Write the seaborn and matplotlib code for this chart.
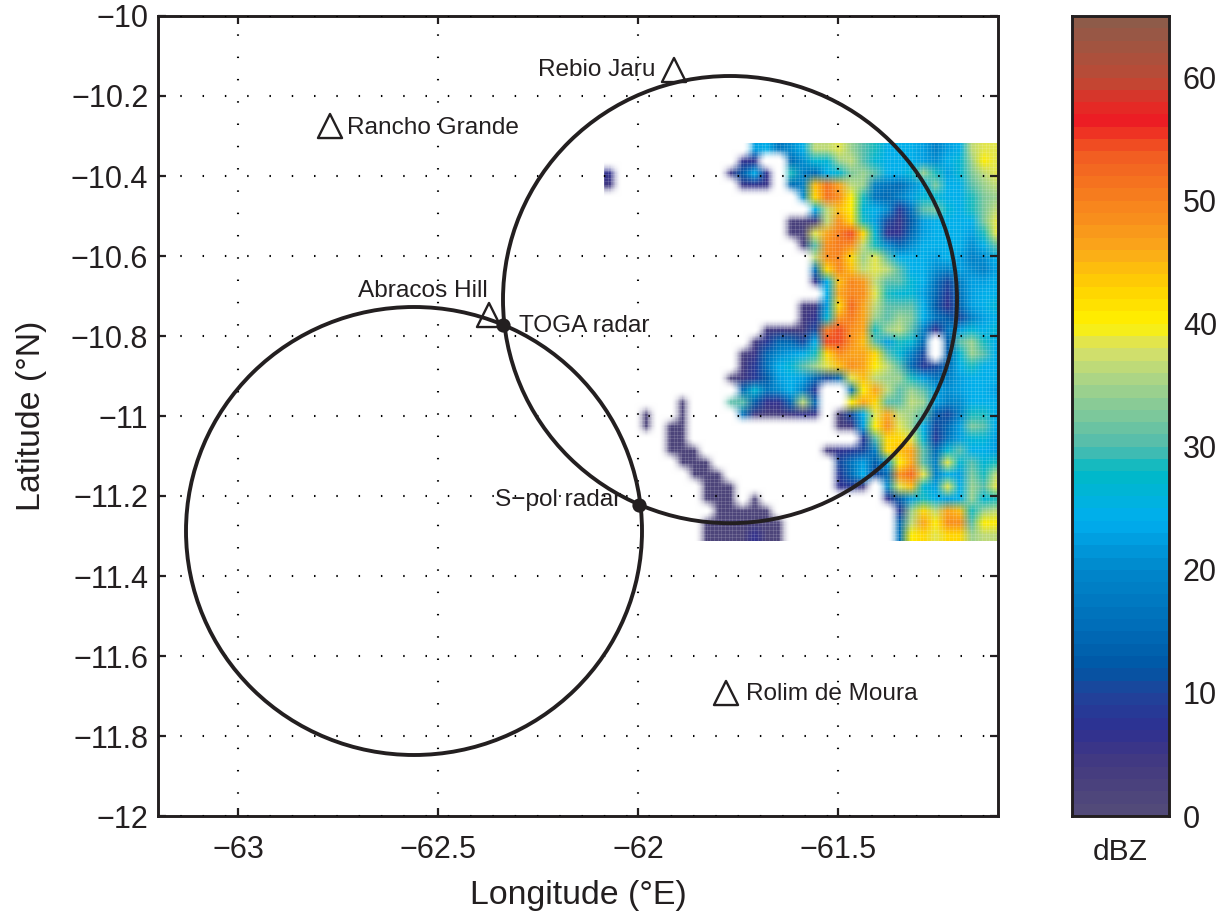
import numpy as np
import pandas as pd
import matplotlib
matplotlib.use("Agg")
import matplotlib.pyplot as plt
from matplotlib.colors import LinearSegmentedColormap, ListedColormap
from matplotlib.patches import Ellipse
import seaborn as sns

sns.set_theme(style="white")
plt.rcParams['font.family'] = ['Liberation Sans', 'DejaVu Sans']
INK = "#231f20"
_ = float('nan')

# colour bar anchors (dBZ, colour)
CB_VALUES = [0, 4, 7, 10, 12, 16, 20, 24, 28, 30, 35, 38, 40, 43, 46, 50, 54, 56.5, 58, 60, 65]
CB_COLORS = ["#534b78", "#433a80", "#2e3092", "#1f449b", "#0057a5", "#0071bb", "#0088cc", "#00aeef",
             "#00b9c6", "#4fbbae", "#a4d38a", "#d9e165", "#fff200", "#ffd200", "#fbaa19", "#f7801e",
             "#f15a22", "#ed1c24", "#e22d26", "#bd4a35", "#8c5c4a"]

# reflectivity rows: (first column, values) north to south, dBZ
R00 = (12, [22,24,16,20,24,36,36,38,34,30,28,24,24,24,22,18,22,24,36,38,38])
R01 = (11, [6,6,_,_,14,20,26,26,34,36,30,26,24,24,24,22,20,24,26,34,40,38])
R02 = (0, [6,_,_,_,_,_,_,_,_,_,5,12,24,6,_,28,18,14,24,26,32,34,30,24,24,26,34,28,22,26,32,36,38])
R03 = (0, [4,_,_,_,_,_,_,_,_,_,_,5,6,5,_,14,18,44,51,46,36,34,18,16,14,20,24,32,24,24,30,34,36])
R04 = (16, [20,42,51,48,40,28,16,14,18,22,26,26,24,24,28,32,34])
R05 = (17, [24,36,44,40,26,24,20,8,16,30,32,26,24,28,32,36])
R06 = (15, [2,2,3,36,48,42,28,22,10,5,12,22,24,24,24,24,32,38])
R07 = (15, [2,2,38,46,50,54,42,26,6,6,14,22,24,24,24,22,28,38])
R08 = (16, [3,30,48,50,48,36,28,20,14,20,24,24,24,24,20,24,30])
R09 = (17, [36,48,49,42,34,38,30,24,24,24,22,24,22,18,20,24])
R10 = (17, [16,42,49,44,36,38,36,30,24,24,20,18,22,20,18,22])
R11 = (17, [5,24,44,49,47,36,30,30,26,24,16,10,18,22,22,24])
R12 = (18, [24,46,49,48,38,28,26,26,22,14,8,16,22,24,24])
R13 = (16, [3,4,22,42,52,46,36,30,30,30,24,12,6,14,22,24,26])
R14 = (16, [3,6,26,47,50,46,34,30,34,32,24,16,12,10,18,22,24])
R15 = (13, [3,4,3,3,10,50,54,48,46,28,34,36,30,18,6,16,22,26,24,26])
R16 = (12, [3,8,14,14,10,24,54,54,48,44,30,22,28,26,14,_,12,30,34,28,24])
R17 = (11, [2,5,14,20,22,24,28,42,48,46,46,42,30,26,18,10,_,12,26,34,30,24])
R18 = (11, [3,8,16,24,26,30,34,38,44,48,46,40,36,30,14,8,10,14,24,28,24,24])
R19 = (10, [1,4,8,12,22,24,22,14,10,14,38,44,36,34,34,28,22,16,18,22,24,24,24])
R20 = (11, [14,26,16,20,24,18,8,_,_,16,40,46,36,30,34,30,22,20,22,24,24,22])
R21 = (6, [1,_,_,_,30,30,12,6,6,14,36,14,_,_,40,46,42,30,30,36,34,22,18,20,24,24,24])
R22 = (3, [1,_,_,1,_,_,_,_,16,4,2,3,4,6,5,_,2,10,24,38,46,36,34,30,12,10,18,28,28,24])
R23 = (3, [1,_,1,1,_,_,_,_,_,_,_,_,_,_,_,_,2,4,22,40,48,38,34,24,10,14,22,32,30,24])
R24 = (5, [1,1,_,_,_,_,_,_,_,_,_,_,_,_,_,_,8,30,42,42,38,26,8,16,22,26,26,22])
R25 = (5, [1,1,1,_,_,_,_,_,_,_,_,_,_,3,6,8,10,18,42,44,46,30,14,26,30,24,24,22])
R26 = (6, [1,1,1,_,_,_,_,_,_,_,_,_,_,10,16,22,12,22,40,46,30,18,38,26,30,26,28])
R27 = (7, [1,1,1,_,_,_,_,_,_,_,_,_,8,14,24,10,14,48,52,38,18,24,22,32,28,36])
R28 = (8, [1,1,1,_,_,_,_,_,_,_,_,6,8,4,_,20,38,44,26,22,38,24,34,30,38])
R29 = (8, [1,1,1,_,1,_,_,_,_,_,_,_,_,_,_,6,12,22,28,24,22,24,34,26,28])
R30 = (9, [1,1,1,1,1,_,_,_,_,_,_,_,_,_,_,8,34,42,36,46,44,28,34,36])
R31 = (8, [1,1,1,1,1,1,1,_,_,_,_,_,_,_,_,_,14,36,46,40,48,48,30,40,40])
R32 = (8, [1,1,1,1,6,1,1,_,_,_,_,_,_,_,_,_,16,40,42,38,42,42,34,36,36])
FIELD_ROWS = [R00,R01,R02,R03,R04,R05,R06,R07,R08,R09,R10,R11,R12,R13,R14,R15,R16,
              R17,R18,R19,R20,R21,R22,R23,R24,R25,R26,R27,R28,R29,R30,R31,R32]
FIELD_EXTENT = [-62.085, -61.09, -11.3125, -10.3175]

# radar range circles
CIRCLE_LON = [-61.77, -62.56]
CIRCLE_LAT = [-10.709, -11.2875]
CIRCLE_RX = [0.5675, 0.57]
CIRCLE_RY = [0.559, 0.56]

# sites
STATION_NAMES = ["Rancho Grande", "Rebio Jaru", "Abracos Hill", "Rolim de Moura"]
STATION_LON = [-62.77, -61.91, -62.3725, -61.78]
STATION_LAT = [-10.275, -10.135, -10.7475, -11.6925]
STATION_LABEL_LON = [-62.7275, -61.9575, -62.375, -61.73]
STATION_LABEL_LAT = [-10.28, -10.135, -10.6875, -11.695]
STATION_HA = ["left", "right", "right", "left"]
RADAR_NAMES = ["TOGA radar", "S\u2212pol radar"]
RADAR_LON = [-62.3375, -61.9975]
RADAR_LAT = [-10.7725, -11.2225]
RADAR_LABEL_LON = [-62.2975, -62.3575]
RADAR_LABEL_LAT = [-10.775, -11.21]

X_TICKS = [-63, -62.5, -62, -61.5]
X_LABELS = ["\u221263", "\u221262.5", "\u221262", "\u221261.5"]
Y_TICKS = [-10, -10.2, -10.4, -10.6, -10.8, -11, -11.2, -11.4, -11.6, -11.8, -12]
Y_LABELS = ["\u221210", "\u221210.2", "\u221210.4", "\u221210.6", "\u221210.8", "\u221211",
            "\u221211.2", "\u221211.4", "\u221211.6", "\u221211.8", "\u221212"]
CB_TICKS = [0, 10, 20, 30, 40, 50, 60]

W, H = 1223, 916
fig = plt.figure(figsize=(W / 100, H / 100), dpi=100, facecolor="white")
ax = fig.add_axes([158 / W, 1 - 816 / H, 840 / W, 800 / H])
cax = fig.add_axes([1072 / W, 1 - 816 / H, 97 / W, 800 / H])

smooth = LinearSegmentedColormap.from_list(
    "dbz", [(v / 65, c) for v, c in zip(CB_VALUES, CB_COLORS)], N=256)
bands = ListedColormap([smooth((i + 0.5) / 65) for i in range(65)], name="dbz65")
bands.set_bad((1, 1, 1, 0))

field = np.full((len(FIELD_ROWS), 33), np.nan)
for r, (start, vals) in enumerate(FIELD_ROWS):
    field[r, start:start + len(vals)] = vals

ax.imshow(np.ma.masked_invalid(field), cmap=bands, vmin=0, vmax=65, extent=FIELD_EXTENT,
          origin="upper", aspect="auto", interpolation="bilinear",
          interpolation_stage="rgba", zorder=1)
# pale mesh of the original gridded field
mesh_step = 3.67 / 400
ax.vlines(np.arange(FIELD_EXTENT[0], FIELD_EXTENT[1], mesh_step), FIELD_EXTENT[2], FIELD_EXTENT[3],
          color="white", alpha=0.16, linewidth=0.6, zorder=1.5)
ax.hlines(np.arange(FIELD_EXTENT[2], FIELD_EXTENT[3], mesh_step), FIELD_EXTENT[0], FIELD_EXTENT[1],
          color="white", alpha=0.16, linewidth=0.6, zorder=1.5)
ax.set_xlim(-63.2, -61.1)
ax.set_ylim(-12, -10)

ax.grid(True, color="black", linewidth=1.5, linestyle=(0, (0.7, 10)), zorder=2)
ax.set_axisbelow(False)

for lon, lat, rx, ry in zip(CIRCLE_LON, CIRCLE_LAT, CIRCLE_RX, CIRCLE_RY):
    ax.add_patch(Ellipse((lon, lat), 2 * rx, 2 * ry, fill=False, edgecolor=INK, linewidth=2.8, zorder=3))

stations = pd.DataFrame({"lon": STATION_LON, "lat": STATION_LAT})
sns.scatterplot(data=stations, x="lon", y="lat", ax=ax, marker="^", s=300, facecolor="none",
                edgecolor=INK, linewidth=1.7, zorder=4, clip_on=False)
radars = pd.DataFrame({"lon": RADAR_LON, "lat": RADAR_LAT})
sns.scatterplot(data=radars, x="lon", y="lat", ax=ax, marker="o", s=105, color=INK,
                edgecolor=INK, linewidth=0, zorder=5)

for name, lon, lat, ha in zip(STATION_NAMES, STATION_LABEL_LON, STATION_LABEL_LAT, STATION_HA):
    ax.text(lon, lat, name, ha=ha, va="center", fontsize=17.6, color=INK, zorder=6)
for name, lon, lat in zip(RADAR_NAMES, RADAR_LABEL_LON, RADAR_LABEL_LAT):
    ax.text(lon, lat, name, ha="left", va="center", fontsize=17.6, color=INK, zorder=6)

ax.set_xticks(X_TICKS, X_LABELS)
ax.set_yticks(Y_TICKS, Y_LABELS)
ax.tick_params(axis="both", which="major", direction="in", top=True, right=True, bottom=True, left=True,
               length=6, width=1.6, color=INK, labelcolor=INK, labelsize=22)
ax.tick_params(axis="x", pad=14)
ax.tick_params(axis="y", pad=7)
ax.set_xlabel("Longitude (\u00b0E)", fontsize=24.4, color=INK, labelpad=10.5)
ax.set_ylabel("Latitude (\u00b0N)", fontsize=24.4, color=INK, labelpad=17.5)
for s in ax.spines.values():
    s.set_visible(True)
    s.set_linewidth(2.1)
    s.set_color(INK)

levels = pd.DataFrame({"dBZ": np.arange(65) + 0.5})
sns.heatmap(levels, ax=cax, cmap=bands, vmin=0, vmax=65, cbar=False, xticklabels=False, yticklabels=False)
cax.set_ylim(0, 65)
cax.set_ylabel("")
cax.yaxis.tick_right()
cax.set_yticks(CB_TICKS, [str(t) for t in CB_TICKS])
cax.tick_params(axis="y", direction="in", left=True, right=True, length=6, width=1.6, color=INK,
                labelcolor=INK, labelsize=22, pad=10)
cax.set_xlabel("dBZ", fontsize=21.5, color=INK, labelpad=16)
for s in cax.spines.values():
    s.set_visible(True)
    s.set_linewidth(2.1)
    s.set_color(INK)

fig.savefig("out.png", dpi=100)
